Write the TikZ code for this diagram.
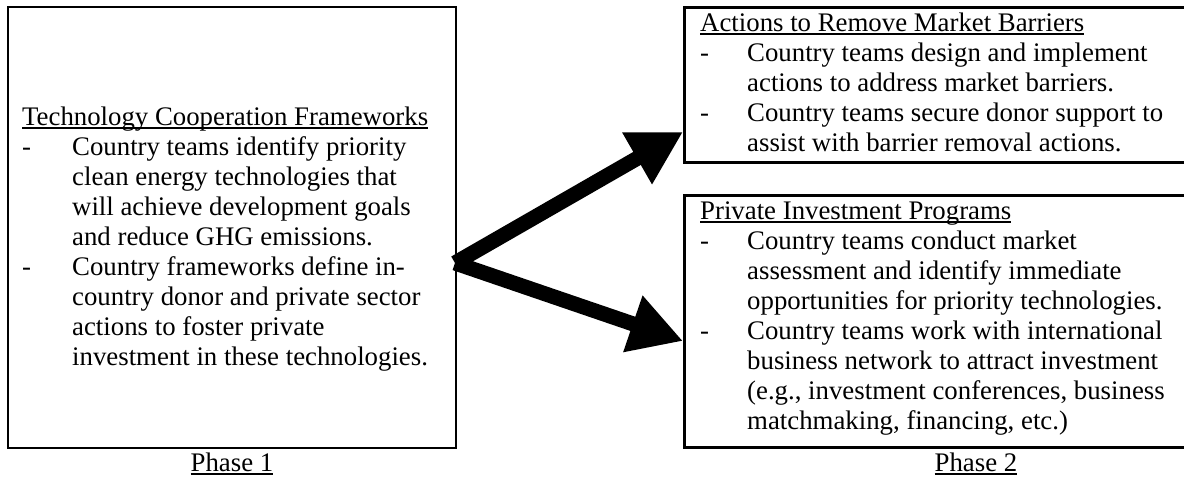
\documentclass[tikz,border=0pt]{standalone}
\usepackage{fontspec}
\setmainfont{Liberation Serif}
\usetikzlibrary{arrows.meta}
\newcommand{\myul}[1]{\setbox0\hbox{#1}\rlap{\rule[-3.5pt]{\wd0}{1.6pt}}\box0}
\newcommand{\dashline}{\makebox[47pt][l]{-}}
\newcommand{\indline}{\hspace*{47pt}}
\newcommand{\dashlineL}{\makebox[50pt][l]{-}}
\newcommand{\indlineL}{\hspace*{50pt}}
\tikzset{
  framebox/.style={draw=black, line width=2.6pt, inner sep=0, fill=none},
  boxtext/.style={inner sep=0, anchor=north west, align=left,
    font=\fontsize{26.8}{30}\selectfont},
  phaselabel/.style={inner sep=0, anchor=base, font=\fontsize{26.8}{30}\selectfont},
  bigarrow/.style={line width=15pt, line cap=butt, -{Triangle[length=53pt,width=56pt]}}
}
\begin{document}
\begin{tikzpicture}[x=1pt,y=-1pt]
\path[use as bounding box, clip] (0,0) rectangle (1184,478);
\fill[white] (0,0) rectangle (1184,478);
% boxes
\node[framebox, minimum width=448pt, minimum height=441pt] (p1) at (232,227.5) {};
\node[framebox, minimum width=780pt, minimum height=155pt, anchor=north west] (ar) at (683,6) {};
\node[framebox, minimum width=780pt, minimum height=252pt, anchor=north west] (pi) at (683,194) {};
% texts
\node[boxtext] (p1t) at (22,104) {\strut\myul{Technology Cooperation Frameworks}\\
\strut\dashlineL Country teams identify priority\\
\strut\indlineL clean energy technologies that\\
\strut\indlineL will achieve development goals\\
\strut\indlineL and reduce GHG emissions.\\
\strut\dashlineL Country frameworks define in-\\
\strut\indlineL country donor and private sector\\
\strut\indlineL actions to foster private\\
\strut\indlineL investment in these technologies.};
\node[boxtext] (art) at (700,10) {\strut\myul{Actions to Remove Market Barriers}\\
\strut\dashline Country teams design and implement\\
\strut\indline actions to address market barriers.\\
\strut\dashline Country teams secure donor support to\\
\strut\indline assist with barrier removal actions.};
\node[boxtext] (pit) at (700,198) {\strut\myul{Private Investment Programs}\\
\strut\dashline Country teams conduct market\\
\strut\indline assessment and identify immediate\\
\strut\indline opportunities for priority technologies.\\
\strut\dashline Country teams work with international\\
\strut\indline business network to attract investment\\
\strut\indline (e.g., investment conferences, business\\
\strut\indline matchmaking, financing, etc.)};
% phase labels
\node[phaselabel] (ph1) at (232,471) {\myul{Phase 1}};
\node[phaselabel] (ph2) at (976,471) {\myul{Phase 2}};
% arrows
\coordinate (fork) at (455,263);
\coordinate (tip1) at (ar.west |- 0,132);
\coordinate (tip2) at (pi.west |- 0,341);
\draw[bigarrow] (fork) -- (tip1);
\draw[bigarrow] (fork) -- (tip2);
\end{tikzpicture}
\end{document}
